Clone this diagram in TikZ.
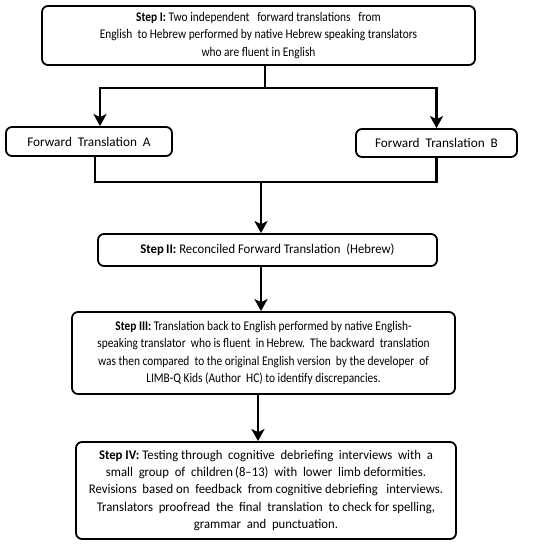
\documentclass[tikz,border=0pt]{standalone}
\usepackage{fontspec}
\setmainfont{Carlito}[FakeStretch=0.86]
\newfontfamily\widefont{Carlito}[FakeStretch=0.96, Ligatures=TeX]
\newfontfamily\widerfont{Carlito}[FakeStretch=1.0, Ligatures=TeX]
\usetikzlibrary{arrows.meta, calc}

\begin{document}
\begin{tikzpicture}[
            x = 1bp, y = -1bp, % pixel grid, y down
            > = {Stealth[length=12bp, width=13bp, inset=3bp]}, % arrow head style
            font = \fontsize{13.3}{17.3}\selectfont,
            line width = 2.8bp % line style
        ]

        \tikzset{
            stepbox/.style = {
                draw = black,
                line width = 1.8bp,
                rounded corners = 6bp,
                fill = white,
                align = center,
                inner sep = 0pt
            },
            wide/.style = {font = \widefont\fontsize{13.3}{17.3}\selectfont},
            wider/.style = {font = \widerfont\fontsize{13.3}{17.3}\selectfont}
        }

        \useasboundingbox (0,0) rectangle (550,544);

        \node (s1) [stepbox, minimum width = 433bp, minimum height = 59bp] at (258.5,35.5)
            {\textbf{Step I:} Two independent\ \ \ forward translations\ \ \ from\\
             English\ \ to Hebrew performed by native Hebrew speaking translators\\
             who are fluent in English};
        \node (fa) [stepbox, wider, minimum width = 166bp, minimum height = 29bp] at (89,141.5)
            {Forward\ \ Translation\ \ A};
        \node (fb) [stepbox, wider, minimum width = 161bp, minimum height = 28bp] at (436.5,143)
            {Forward\ \ Translation\ \ B};
        \node (s2) [stepbox, wide, minimum width = 339bp, minimum height = 32bp] at (267.5,250)
            {\textbf{Step\,II:} Reconciled Forward Translation\ \ (Hebrew)};
        \node (s3) [stepbox, minimum width = 383bp, minimum height = 82bp] at (263.5,353)
            {\textbf{Step III:} Translation back to English performed by native English-\\
             speaking translator\ \ who is fluent\ \ in\,Hebrew.\ \ The backward\ \ translation\\
             was then compared\ \ to the original English version\ \ by the developer\ \ of\\
             LIMB-Q Kids (Author\ \ HC) to identify discrepancies.};
        \node (s4) [stepbox, wide, minimum width = 380bp, minimum height = 97bp] at (266,490.5)
            {\textbf{Step IV:} Testing through\ \ cognitive\ \ debriefing\ \ interviews\ \ with\ \ a\\
             small\ \ group\ \ of\ \ children\,(8--13)\ \ with\ \ lower\ \ limb deformities.\\
             Revisions\ \ based on\ \ feedback\ \ from cognitive debriefing\ \ \ interviews.\\
             Translators\ \ proofread\ \ the\ \ final\ \ translation\ \ to check for spelling,\\
             grammar\ \ and\ \ punctuation.};

        \coordinate (split) at (265,88);
        \coordinate (merge) at (261,182);

        \draw (s1.south -| split) -- (split);
        \draw[->] (split) -| ($(fa.north)+(11,0)$);
        \draw[->] (split) -| (fb.north);

        \draw ($(fa.south)+(6,0)$) |- (merge) -| (fb.south);
        \draw[->] (merge) -- (s2.north -| merge);
        \draw[->] (s2.south -| merge) -- (s3.north -| merge);
        \draw[->] (s3.south -| 258,0) -- (s4.north -| 258,0);

    \end{tikzpicture}
\end{document}
